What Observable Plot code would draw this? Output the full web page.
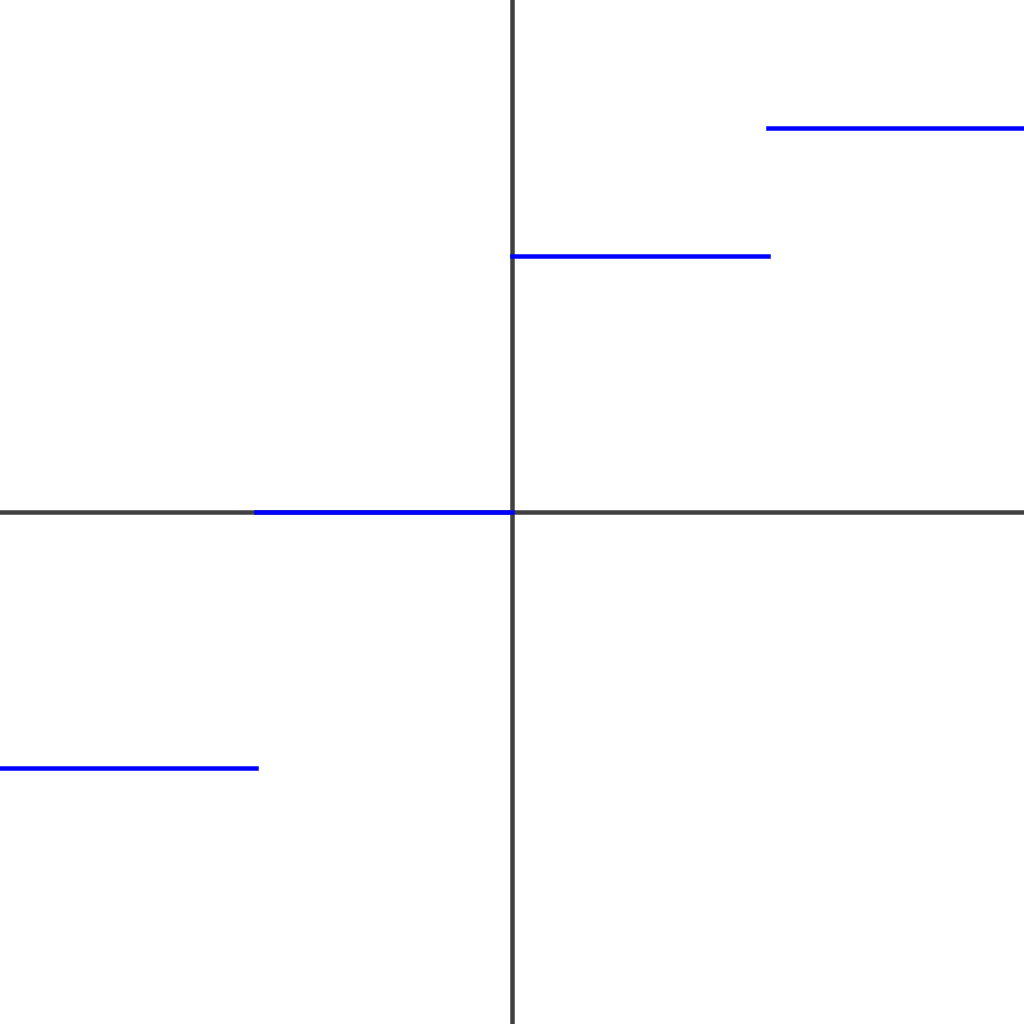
<!DOCTYPE html>
<html>
<head>
<meta charset="utf-8">
<style>
  html, body { margin: 0; padding: 0; background: #fff; }
  svg { display: block; }
</style>
<script src="https://cdn.jsdelivr.net/npm/d3@7"></script>
<script src="https://cdn.jsdelivr.net/npm/@observablehq/plot@0.6"></script>
</head>
<body>
<div id="chart"></div>
<script>
// Step segments: start x, end x, level
const segStart = [-2, -1, 0, 1];
const segEnd = [-1, 0, 1, 2];
const segLevel = [-1, 0, 1, 1.5];

const segments = segStart.map((s, i) => ({x1: s, x2: segEnd[i], y: segLevel[i]}));

const chart = Plot.plot({
  width: 1024,
  height: 1024,
  margin: 0,
  x: {domain: [-2, 2], axis: null},
  y: {domain: [-2, 2], axis: null},
  style: {background: "#fff"},
  marks: [
    Plot.ruleY([0], {stroke: "#404040", strokeWidth: 4.5}),
    Plot.ruleX([0], {stroke: "#404040", strokeWidth: 4.5}),
    Plot.link(segments, {
      x1: "x1", x2: "x2", y1: "y", y2: "y",
      stroke: "#0000ff", strokeWidth: 4.5, strokeLinecap: "square"
    })
  ]
});
document.getElementById("chart").appendChild(chart);
</script>
</body>
</html>
